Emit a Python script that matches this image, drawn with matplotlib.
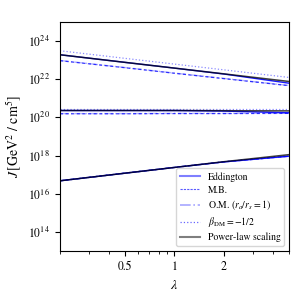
import matplotlib
matplotlib.use("Agg")
import matplotlib.pyplot as plt
import numpy as np
from matplotlib.lines import Line2D
from matplotlib.ticker import FixedLocator, NullLocator, FormatStrFormatter, LogLocator

plt.rcParams["font.family"] = ["STIXGeneral", "DejaVu Serif"]
plt.rcParams["mathtext.fontset"] = "stix"
plt.rcParams["font.size"] = 8

# scale factor lambda
lam = [0.2, 0.5, 1.0, 2.0, 5.0]

# log10 J values, three halo groups (top, middle, bottom)
edd_top = [23.28, 22.88, 22.58, 22.27, 21.79]
edd_mid = [20.36, 20.36, 20.36, 20.33, 20.24]
edd_bot = [16.68, 17.08, 17.38, 17.67, 17.97]

mb_top = [22.97, 22.60, 22.31, 22.03, 21.66]
mb_mid = [20.19, 20.19, 20.20, 20.20, 20.21]
mb_bot = [16.68, 17.08, 17.38, 17.67, 17.97]

om_top = [22.98, 22.61, 22.32, 22.04, 21.67]
om_mid = [20.20, 20.20, 20.21, 20.21, 20.22]
om_bot = [16.68, 17.08, 17.38, 17.67, 17.96]

beta_top = [23.49, 23.09, 22.79, 22.49, 22.09]
beta_mid = [20.44, 20.44, 20.44, 20.44, 20.44]
beta_bot = [16.69, 17.09, 17.39, 17.68, 17.98]

pl_top = [23.28, 22.88, 22.58, 22.28, 21.88]
pl_mid = [20.36, 20.36, 20.36, 20.35, 20.34]
pl_bot = [16.68, 17.08, 17.38, 17.68, 18.05]

labels = ["Eddington", "M.B.", r"O.M. $(r_a/r_s=1)$", r"$\beta_{\rm DM}=-1/2$", "Power-law scaling"]
series = [
    [edd_top, edd_mid, edd_bot],
    [mb_top, mb_mid, mb_bot],
    [om_top, om_mid, om_bot],
    [beta_top, beta_mid, beta_bot],
    [pl_top, pl_mid, pl_bot],
]
# styles of the curves in the plot
styles = [
    dict(color="blue", ls="-", lw=1.0, alpha=0.9),
    dict(color="blue", ls=(0, (2.5, 2)), lw=0.9, alpha=0.75),
    dict(color="blue", ls="-.", lw=1.0, alpha=0.3),
    dict(color="blue", ls=":", lw=0.9, alpha=0.45),
    dict(color="k", ls="-", lw=1.1, alpha=0.75),
]
# styles of the legend handles
leg_styles = [
    dict(color="blue", ls="-", lw=1.5, alpha=0.5),
    dict(color="#3030ff", ls=(0, (2, 1)), lw=0.8, alpha=0.8),
    dict(color="blue", ls="-.", lw=1.2, alpha=0.35),
    dict(color="blue", ls=":", lw=0.9, alpha=0.6),
    dict(color="k", ls="-", lw=1.5, alpha=0.5),
]

fig = plt.figure(figsize=(3.04, 3.04), dpi=100)
ax = fig.add_axes([0.197, 0.174, 0.754, 0.754])

for groups, style in zip(series, styles):
    for g in groups:
        ax.plot(lam, 10 ** np.array(g), **style)

ax.set_xscale("log")
ax.set_yscale("log")
ax.set_xlim(0.2, 5)
ax.set_ylim(1e13, 1e25)

ax.xaxis.set_major_locator(FixedLocator([0.5, 1, 2]))
ax.xaxis.set_major_formatter(FormatStrFormatter("%g"))
ax.xaxis.set_minor_locator(LogLocator(base=10, subs=np.arange(2, 10)))
ax.xaxis.set_minor_formatter(plt.NullFormatter())
ax.yaxis.set_major_locator(FixedLocator([1e14, 1e16, 1e18, 1e20, 1e22, 1e24]))
ax.yaxis.set_minor_locator(NullLocator())
ax.tick_params(labelsize=8.5)

ax.set_xlabel(r"$\lambda$", fontsize=10)
ax.set_ylabel(r"$J\,[\mathrm{GeV}^2\ /\ \mathrm{cm}^5]$", fontsize=10)

handles = [Line2D([], [], **s) for s in leg_styles]
ax.legend(handles, labels, loc="lower right", fontsize=7, labelspacing=0.35)

plt.savefig("out.png", dpi=100)
